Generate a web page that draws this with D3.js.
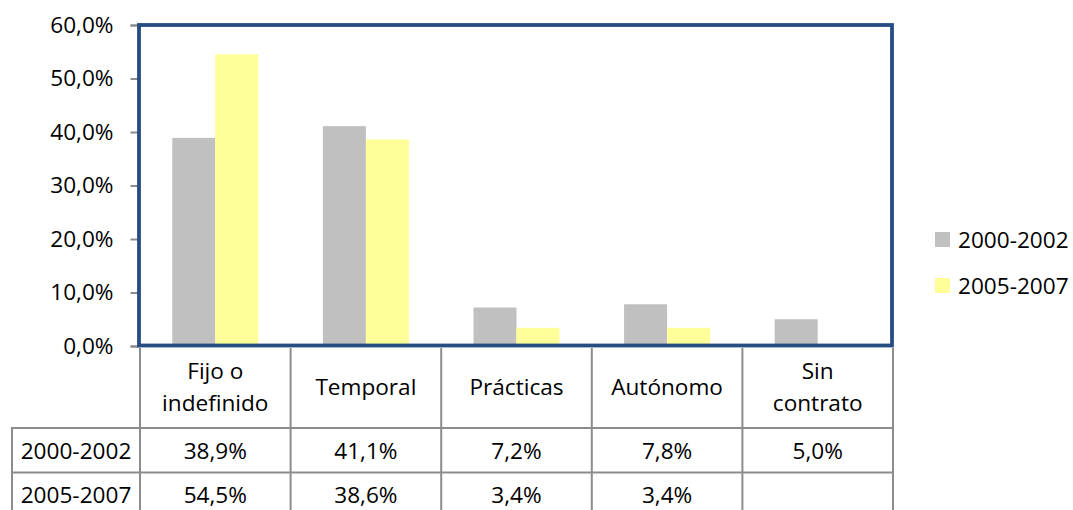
<!DOCTYPE html>
<html>
<head>
<meta charset="utf-8">
<script src="https://cdn.jsdelivr.net/npm/d3@7"></script>
<style>
  html, body { margin: 0; padding: 0; background: #fff; }
  svg { display: block; font-family: "Open Sans", "Noto Sans", sans-serif; }
</style>
</head>
<body>
<svg id="chart" width="1073" height="510"></svg>
<script>
// Contract types (header cells; "\n" marks a line break)
const categories = ["Fijo o\nindefinido", "Temporal", "Prácticas", "Autónomo", "Sin\ncontrato"];
const seriesNames = ["2000-2002", "2005-2007"];
// Share of each contract type, in percent
const values2000 = [38.9, 41.1, 7.2, 7.8, 5.0];
const values2005 = [54.5, 38.6, 3.4, 3.4, null];
const yTicks = [0, 10, 20, 30, 40, 50, 60];
const colors = ["#C0C0C0", "#FFFF99"];

const seriesValues = [values2000, values2005];

const svg = d3.select("#chart");
const fontSize = 22.6;
const gridColor = "#8c8c8c";
const frameColor = "#264D82";

const plot = { left: 140, right: 893, top: 25, bottom: 346 };
const table = { left: 12, row1: 428, row2: 472.5, row3: 517 };

const locale = d3.formatLocale({ decimal: ",", thousands: ".", grouping: [3], currency: ["", " €"] });
const fmt = v => locale.format(".1f")(v) + "%";

const x = d3.scaleBand().domain(d3.range(categories.length)).range([plot.left, plot.right]).padding(0);
const xs = d3.scaleBand().domain(d3.range(seriesNames.length)).range([0, x.bandwidth()])
  .paddingInner(0).paddingOuter(0.75);
const y = d3.scaleLinear().domain([0, 60]).range([plot.bottom, plot.top]);

// Y axis
const yAxis = d3.axisLeft(y).tickValues(yTicks).tickSize(8).tickPadding(17).tickFormat(fmt);
const gy = svg.append("g").attr("transform", `translate(${plot.left - 1.5},0)`).call(yAxis);
gy.select(".domain").attr("stroke", gridColor).attr("stroke-width", 2);
gy.selectAll(".tick line").attr("stroke", gridColor).attr("stroke-width", 2);
gy.selectAll(".tick text").attr("fill", "#000").style("font-size", fontSize + "px")
  .style("font-family", "'Open Sans', sans-serif");

// Bars
const bars = svg.append("g");
seriesValues.forEach((vals, s) => {
  bars.selectAll(null)
    .data(vals.map((v, i) => ({ v, i })).filter(d => d.v != null))
    .enter().append("rect")
    .attr("x", d => x(d.i) + xs(s))
    .attr("width", xs.bandwidth())
    .attr("y", d => y(d.v))
    .attr("height", d => y(0) - y(d.v))
    .attr("fill", colors[s]);
});

// Plot frame
svg.append("rect")
  .attr("x", plot.left - 1).attr("y", plot.top)
  .attr("width", plot.right - plot.left).attr("height", plot.bottom - plot.top - 0.5)
  .attr("fill", "none").attr("stroke", frameColor).attr("stroke-width", 3.8);

// Data table grid
const grid = svg.append("g").attr("stroke", gridColor).attr("stroke-width", 2);
const colEdges = d3.range(categories.length + 1).map(i => i < categories.length ? x(i) : plot.right);
colEdges.forEach(cx => {
  grid.append("line").attr("x1", cx).attr("x2", cx).attr("y1", plot.bottom + 2).attr("y2", table.row3);
});
grid.append("line").attr("x1", table.left).attr("x2", table.left).attr("y1", table.row1).attr("y2", table.row3);
[table.row1, table.row2, table.row3].forEach(ry => {
  grid.append("line").attr("x1", table.left - 1).attr("x2", plot.right + 1).attr("y1", ry).attr("y2", ry);
});

const text = svg.append("g").attr("fill", "#000").style("font-size", fontSize + "px").attr("text-anchor", "middle");
const baseShift = 8;

// Header cells
categories.forEach((c, i) => {
  const lines = c.split("\n");
  const cx = x(i) + x.bandwidth() / 2;
  const mid = (plot.bottom + table.row1) / 2;
  const lh = 31.5;
  lines.forEach((ln, k) => {
    text.append("text").attr("x", cx)
      .attr("y", mid + (k - (lines.length - 1) / 2) * lh + baseShift)
      .text(ln);
  });
});

// Value rows
const rowTops = [table.row1, table.row2];
seriesValues.forEach((vals, s) => {
  const mid = rowTops[s] + 22.5;
  text.append("text").attr("x", (table.left + plot.left) / 2).attr("y", mid + baseShift).text(seriesNames[s]);
  vals.forEach((v, i) => {
    if (v == null) return;
    text.append("text").attr("x", x(i) + x.bandwidth() / 2).attr("y", mid + baseShift).text(fmt(v));
  });
});

// Legend
const legend = svg.append("g").attr("transform", "translate(935,232)");
seriesNames.forEach((n, s) => {
  const g = legend.append("g").attr("transform", `translate(0,${s * 46})`);
  g.append("rect").attr("width", 15).attr("height", 15).attr("fill", colors[s]);
  g.append("text").attr("x", 23).attr("y", 7.5 + baseShift).style("font-size", fontSize + "px").text(n);
});
</script>
</body>
</html>
